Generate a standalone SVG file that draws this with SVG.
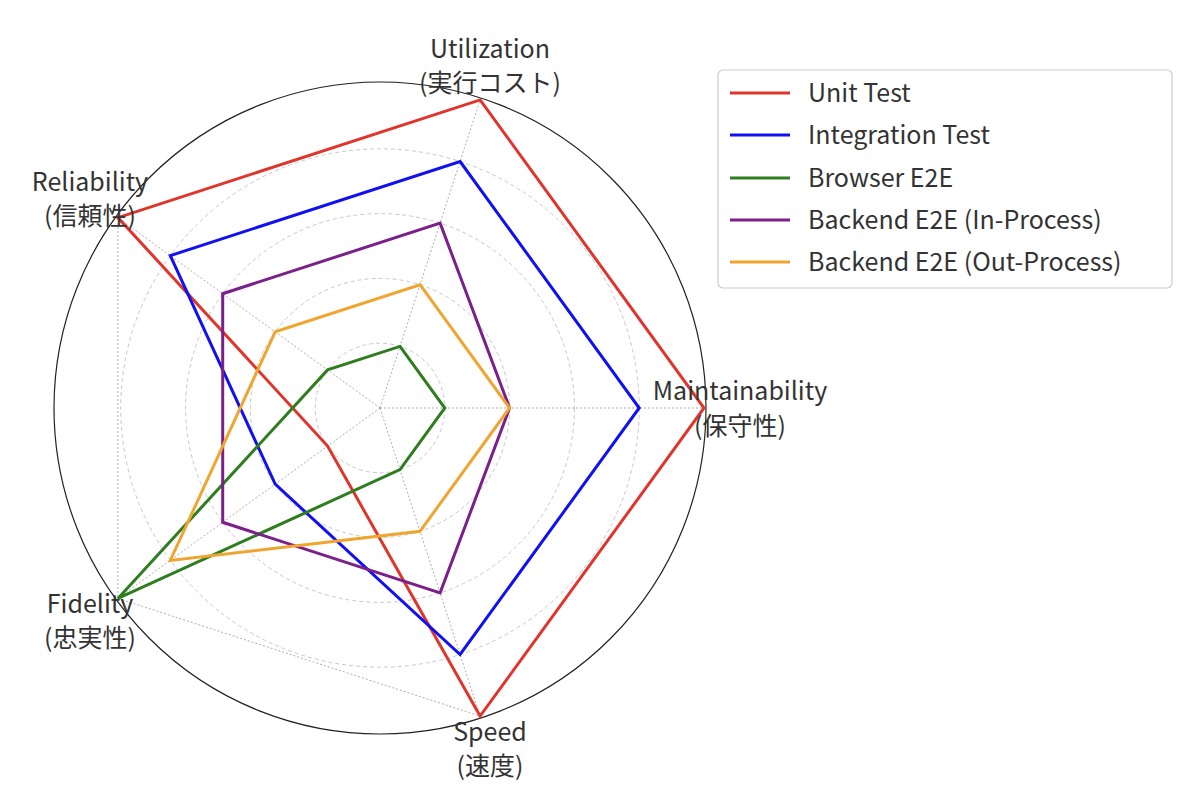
<svg xmlns="http://www.w3.org/2000/svg" width="1200" height="810" viewBox="0 0 1200 810">
<style>
.g{fill:none;stroke:#c8c8c8;stroke-width:1;stroke-dasharray:4 3}
.sp{stroke:#999;stroke-width:0.8;stroke-dasharray:2 2;fill:none}
.s{fill:none;stroke-width:3;stroke-linejoin:miter}
text{font-family:"Noto Sans CJK JP","Noto Sans",sans-serif;font-size:25px;fill:#333}
.c{text-anchor:middle}
</style>
<rect width="1200" height="810" fill="#fff"/>
<g id="grid">
<circle class="g" cx="380" cy="408" r="64.8"/>
<circle class="g" cx="380" cy="408" r="129.6"/>
<circle class="g" cx="380" cy="408" r="194.4"/>
<circle class="g" cx="380" cy="408" r="259.2"/>
<polygon class="sp" points="480.1,99.9 704,408 480.1,716.1 117.9,598.4 117.9,217.6"/>
<path class="sp" d="M380 408L480.1 99.9M380 408L704 408M380 408L480.1 716.1M380 408L117.9 598.4M380 408L117.9 217.6"/>
<circle cx="380" cy="408" r="326" fill="none" stroke="#222" stroke-width="1.2"/>
</g>
<g id="series">
<polygon class="s" stroke="#e0352b" points="480.1,99.9 704,408 480.1,716.1 327.6,446.1 117.9,217.6"/>
<polygon class="s" stroke="#1010f0" points="460.1,161.5 639.2,408 460.1,654.5 275.2,484.2 170.3,255.6"/>
<polygon class="s" stroke="#2e7d1e" points="400,346.4 444.8,408 400,469.6 117.9,598.4 327.6,369.9"/>
<polygon class="s" stroke="#7b1f8a" points="440.1,223.1 509.6,408 440.1,592.9 222.7,522.3 222.7,293.7"/>
<polygon class="s" stroke="#f0a530" points="420,284.7 509.6,408 420,531.3 170.3,560.4 275.2,331.8"/>
</g>
<g id="labels">
<text class="c" x="490" y="58">Utilization</text><text class="c" x="490" y="92">(実行コスト)</text>
<text class="c" x="740" y="400">Maintainability</text><text class="c" x="740" y="435">(保守性)</text>
<text class="c" x="490" y="741">Speed</text><text class="c" x="490" y="775">(速度)</text>
<text class="c" x="90" y="613">Fidelity</text><text class="c" x="90" y="647">(忠実性)</text>
<text class="c" x="90" y="191">Reliability</text><text class="c" x="90" y="225">(信頼性)</text>
</g>
<g id="legend">
<rect x="718" y="70" width="454" height="218" rx="5" fill="#fff" stroke="#ccc" stroke-width="1.2"/>
<path d="M730 93H790" stroke="#e0352b" stroke-width="3"/><text x="808" y="102">Unit Test</text>
<path d="M730 135H790" stroke="#1010f0" stroke-width="3"/><text x="808" y="144">Integration Test</text>
<path d="M730 178H790" stroke="#2e7d1e" stroke-width="3"/><text x="808" y="187">Browser E2E</text>
<path d="M730 220H790" stroke="#7b1f8a" stroke-width="3"/><text x="808" y="229">Backend E2E (In-Process)</text>
<path d="M730 262H790" stroke="#f0a530" stroke-width="3"/><text x="808" y="271">Backend E2E (Out-Process)</text>
</g>
</svg>
